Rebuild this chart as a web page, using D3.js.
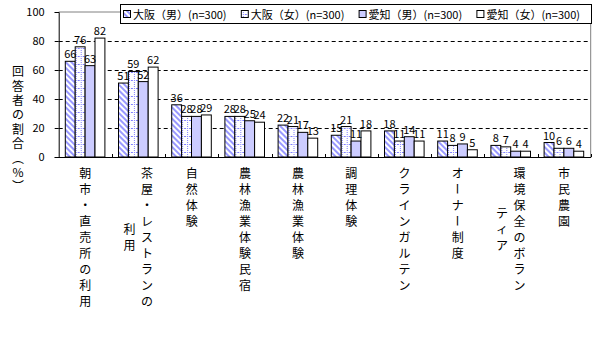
<!DOCTYPE html>
<html>
<head>
<meta charset="utf-8">
<script src="https://cdn.jsdelivr.net/npm/d3@7"></script>
<style>
  body { margin: 0; background: #fff; }
  svg { display: block; font-family: "Noto Sans CJK JP", sans-serif; }
</style>
</head>
<body>
<div id="chart"></div>
<script>
// categories: each label split into vertical columns (first column is rightmost)
const categories = [
  ["朝市・直売所の利用"],
  ["茶屋・レストランの", "利用"],
  ["自然体験"],
  ["農林漁業体験民宿"],
  ["農林漁業体験"],
  ["調理体験"],
  ["クラインガルテン"],
  ["オーナー制度"],
  ["環境保全のボラン", "ティア"],
  ["市民農園"]
];
const seriesNames = ["大阪（男）(n=300)", "大阪（女）(n=300)", "愛知（男）(n=300)", "愛知（女）(n=300)"];
const osakaMale   = [66, 51, 36, 28, 22, 15, 18, 11, 8, 10];
const osakaFemale = [76, 59, 28, 28, 21, 21, 11, 8, 7, 6];
const aichiMale   = [63, 52, 28, 25, 17, 11, 14, 9, 4, 6];
const aichiFemale = [82, 62, 29, 24, 13, 18, 11, 5, 4, 4];
const yTicks = [0, 20, 40, 60, 80, 100];
const yTitle = ["回", "答", "者", "の", "割", "合", "︵", "%", "︶"];

const series = [osakaMale, osakaFemale, aichiMale, aichiFemale];
const fills = ["url(#stripe)", "url(#dotgrid)", "#ccccff", "#ffffff"];

const width = 604, height = 338;
const plot = {left: 58.7, right: 590.7, top: 12, bottom: 157};

const svg = d3.select("#chart").append("svg")
    .attr("width", width)
    .attr("height", height);

// patterns
const defs = svg.append("defs");
const stripe = defs.append("pattern")
    .attr("id", "stripe")
    .attr("patternUnits", "userSpaceOnUse")
    .attr("width", 4).attr("height", 4)
    .attr("patternTransform", "rotate(-45)");
stripe.append("rect").attr("width", 4).attr("height", 4).attr("fill", "#fff");
stripe.append("rect").attr("width", 2).attr("height", 4).attr("fill", "#9999ff");

const dotgrid = defs.append("pattern")
    .attr("id", "dotgrid")
    .attr("patternUnits", "userSpaceOnUse")
    .attr("width", 5).attr("height", 8);
dotgrid.append("rect").attr("width", 5).attr("height", 8).attr("fill", "#fff");
dotgrid.append("line")
    .attr("x1", 2.5).attr("x2", 2.5).attr("y1", 0).attr("y2", 8)
    .attr("stroke", "#8080ff").attr("stroke-dasharray", "1,1");
dotgrid.append("line")
    .attr("x1", 0).attr("x2", 5).attr("y1", 0.5).attr("y2", 0.5)
    .attr("stroke", "#8080ff").attr("stroke-dasharray", "1,1");

// scales
const x0 = d3.scaleBand()
    .domain(d3.range(categories.length))
    .range([plot.left, plot.right]);

const x1 = d3.scaleBand()
    .domain(d3.range(series.length))
    .range([6.6, 46.2]);

const y = d3.scaleLinear()
    .domain([0, 100])
    .range([plot.bottom, plot.top]);

// plot border (gray top/right)
svg.append("path")
    .attr("d", `M${plot.left},${plot.top}H${plot.right}V${plot.bottom}`)
    .attr("fill", "none")
    .attr("stroke", "#808080");

// dashed gridlines
svg.append("g")
    .selectAll("line")
    .data(yTicks.filter(t => t > 0 && t < 100))
    .enter().append("line")
    .attr("x1", plot.left).attr("x2", plot.right)
    .attr("y1", d => Math.round(y(d)) + 0.5)
    .attr("y2", d => Math.round(y(d)) + 0.5)
    .attr("stroke", "#000")
    .attr("stroke-dasharray", "4,3");

// bars
const groups = svg.append("g")
    .selectAll("g")
    .data(categories)
    .enter().append("g")
    .attr("transform", (d, i) => `translate(${x0(i)},0)`);

groups.selectAll("rect")
    .data((d, i) => series.map((s, k) => ({k: k, v: s[i]})))
    .enter().append("rect")
    .attr("x", d => x1(d.k))
    .attr("y", d => y(d.v))
    .attr("width", x1.bandwidth())
    .attr("height", d => y(0) - y(d.v))
    .attr("fill", d => fills[d.k])
    .attr("stroke", "#000")
    .attr("stroke-width", 1);

groups.selectAll("text.val")
    .data((d, i) => series.map((s, k) => ({k: k, v: s[i]})))
    .enter().append("text")
    .attr("class", "val")
    .attr("x", d => x1(d.k) + x1.bandwidth() / 2)
    .attr("y", d => y(d.v) - 3)
    .attr("text-anchor", "middle")
    .attr("font-size", 11)
    .attr("fill", "#000")
    .text(d => d.v);

// y axis
const yAxis = d3.axisLeft(y)
    .tickValues(yTicks)
    .tickSize(4)
    .tickPadding(10);

svg.append("g")
    .attr("transform", `translate(${plot.left},0)`)
    .call(yAxis)
    .call(g => g.select(".domain").attr("stroke", "#000"))
    .call(g => g.selectAll("text").attr("font-size", 11).attr("font-family", "'Noto Sans CJK JP', sans-serif").attr("fill", "#000"));

// x axis baseline with small inward ticks at group boundaries
svg.append("line")
    .attr("x1", plot.left).attr("x2", plot.right + 0.5)
    .attr("y1", plot.bottom + 0.5).attr("y2", plot.bottom + 0.5)
    .attr("stroke", "#000");

svg.append("g")
    .selectAll("line")
    .data(d3.range(1, categories.length + 1))
    .enter().append("line")
    .attr("x1", i => Math.round(x0.step() * i + plot.left) + 0.5)
    .attr("x2", i => Math.round(x0.step() * i + plot.left) + 0.5)
    .attr("y1", plot.bottom - 3).attr("y2", plot.bottom)
    .attr("stroke", "#000");

// vertical category labels
const pitch = 16, labelTop = 172.7;
categories.forEach((cols, i) => {
    const cx = x0(i) + x0.bandwidth() / 2;
    const maxLen = d3.max(cols, c => c.length);
    cols.forEach((col, j) => {
        const chars = Array.from(col);
        const colX = cols.length === 1 ? cx : cx + 8.5 - j * 17.5;
        const startY = labelTop + (maxLen - chars.length) * pitch / 2;
        chars.forEach((ch, k) => {
            const cy = startY + k * pitch;
            const t = svg.append("text")
                .attr("x", colX)
                .attr("y", cy)
                .attr("text-anchor", "middle")
                .attr("dominant-baseline", "central")
                .attr("font-size", 12)
                .attr("fill", "#000")
                .text(ch);
            if (ch === "ー") t.attr("transform", `rotate(90,${colX},${cy})`);
        });
    });
});

// y title
yTitle.forEach((ch, k) => {
    svg.append("text")
        .attr("x", 18)
        .attr("y", 70.7 + k * 14.4)
        .attr("text-anchor", "middle")
        .attr("dominant-baseline", "central")
        .attr("font-size", 12)
        .attr("fill", "#000")
        .text(ch);
});

// legend
const legend = svg.append("g");
legend.append("rect")
    .attr("x", 120.5).attr("y", 4.5)
    .attr("width", 471).attr("height", 19)
    .attr("fill", "#fff")
    .attr("stroke", "#000");

const items = legend.selectAll("g.item")
    .data(seriesNames)
    .enter().append("g")
    .attr("class", "item")
    .attr("transform", (d, i) => `translate(${123 + i * 117.8},14)`);

items.append("rect")
    .attr("x", 0.5).attr("y", -3.5)
    .attr("width", 7).attr("height", 7)
    .attr("fill", (d, i) => fills[i])
    .attr("stroke", "#000");

items.append("text")
    .attr("x", 10)
    .attr("y", 0)
    .attr("dominant-baseline", "central")
    .attr("font-size", 11)
    .attr("fill", "#000")
    .text(d => d);
</script>
</body>
</html>
